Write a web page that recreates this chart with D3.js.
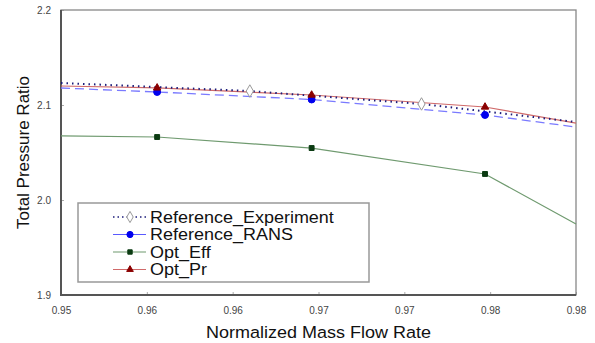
<!DOCTYPE html>
<html>
<head>
<meta charset="utf-8">
<script src="https://cdn.jsdelivr.net/npm/d3@7"></script>
<style>
  body { margin: 0; background: #fff; }
  text { font-family: "Liberation Sans", Arial, sans-serif; }
</style>
</head>
<body>
<div id="chart"></div>
<script>
// series (first/last points sit on the axis edges, where the lines get cut)
const expX = [0.95, 0.9610, 0.9710, 0.98]
const expY = [2.1232, 2.1147, 2.1011, 2.0821]
const ransX = [0.95, 0.9556, 0.9646, 0.9747, 0.98]
const ransY = [2.1179, 2.1137, 2.1058, 2.0895, 2.0768]
const effX = [0.95, 0.9556, 0.9646, 0.9747, 0.98]
const effY = [2.0674, 2.0663, 2.0547, 2.0274, 1.9747]
const prX = [0.95, 0.9556, 0.9646, 0.9747, 0.98]
const prY = [2.1200, 2.1180, 2.1105, 2.0979, 2.0810]

const xTicks = [0.95, 0.955, 0.96, 0.965, 0.97, 0.975, 0.98]
const yTicks = [1.9, 2.0, 2.1, 2.2]

const margin = { top: 10, right: 19, bottom: 48, left: 61 },
  fullWidth = 595,
  fullHeight = 343,
  width = fullWidth - margin.left - margin.right,
  height = fullHeight - margin.top - margin.bottom

const x = d3.scaleLinear().domain([0.95, 0.98]).range([0, width])
const y = d3.scaleLinear().domain([1.9, 2.2]).range([height, 0])

// excel style rounding to 2 decimals (0.955 -> 0.96)
const fmtX = d => (Math.round(d * 100 + 1e-6) / 100).toFixed(2)

const svg = d3.select('#chart')
  .append('svg')
  .attr('width', fullWidth)
  .attr('height', fullHeight)

const g = svg.append('g')
  .attr('transform', `translate(${margin.left}, ${margin.top})`)

// axes, ticks pointing inward
g.append('g')
  .attr('transform', `translate(0, ${height})`)
  .call(d3.axisBottom(x).tickValues(xTicks).tickFormat(fmtX).tickSizeInner(-3).tickSizeOuter(0).tickPadding(12))
  .call(a => a.select('.domain').remove())
  .call(a => a.selectAll('line').attr('stroke', '#aaa'))
  .call(a => a.selectAll('text').attr('font-size', 10).attr('fill', '#444')
    .attr('font-family', '"Liberation Sans", Arial, sans-serif'))

g.append('g')
  .call(d3.axisLeft(y).tickValues(yTicks).tickFormat(d3.format('.1f')).tickSizeInner(-3).tickSizeOuter(0).tickPadding(10))
  .call(a => a.select('.domain').remove())
  .call(a => a.selectAll('line').attr('stroke', '#aaa'))
  .call(a => a.selectAll('text').attr('font-size', 10).attr('fill', '#444')
    .attr('font-family', '"Liberation Sans", Arial, sans-serif'))

// plot frame: light top/right, heavier left/bottom axes
g.append('rect')
  .attr('width', width)
  .attr('height', height)
  .attr('fill', 'none')
  .attr('stroke', '#888')
  .attr('stroke-width', 1.3)

g.append('path')
  .attr('d', `M0,0V${height}H${width}`)
  .attr('fill', 'none')
  .attr('stroke', '#555')
  .attr('stroke-width', 2)

const series = [
  { name: 'Reference_Experiment', xs: expX, ys: expY, line: '#1c1c7a', dash: '1.5,4', width: 2, shape: d3.symbolDiamond, fill: '#fff', mstroke: '#999', size: 45 },
  { name: 'Reference_RANS', xs: ransX, ys: ransY, line: '#7a7aff', dash: '9,5', width: 1.3, shape: d3.symbolCircle, fill: '#0000ee', mstroke: '#0000ee', size: 38 },
  { name: 'Opt_Eff', xs: effX, ys: effY, line: '#6f9a6f', dash: null, width: 1.2, shape: d3.symbolSquare, fill: '#0b3b12', mstroke: '#0b3b12', size: 24 },
  { name: 'Opt_Pr', xs: prX, ys: prY, line: '#d06a6a', dash: null, width: 1.2, shape: d3.symbolTriangle, fill: '#8b0000', mstroke: '#8b0000', size: 24 }
]

const line = d3.line().x(d => x(d[0])).y(d => y(d[1]))

// draw lines in Excel-ish order: experiment on top of the rest
const order = [2, 1, 3, 0]
order.forEach(i => {
  const s = series[i]
  const pts = s.xs.map((v, j) => [v, s.ys[j]])
  g.append('path')
    .datum(pts)
    .attr('d', line)
    .attr('fill', 'none')
    .attr('stroke', s.line)
    .attr('stroke-width', s.width)
    .attr('stroke-dasharray', s.dash)
})

order.forEach(i => {
  const s = series[i]
  const pts = s.xs.map((v, j) => [v, s.ys[j]])
    .filter(p => p[0] > 0.95 && p[0] < 0.98)
  g.selectAll(null)
    .data(pts)
    .enter()
    .append('path')
    .attr('transform', d => `translate(${x(d[0])}, ${y(d[1])})`)
    .attr('d', d3.symbol().type(s.shape).size(s.size))
    .attr('fill', s.fill)
    .attr('stroke', s.mstroke)
    .attr('stroke-width', 1)
})

// legend
const legend = g.append('g').attr('transform', `translate(${78 - margin.left}, ${203 - margin.top})`)
legend.append('rect')
  .attr('width', 291)
  .attr('height', 79)
  .attr('fill', '#fff')
  .attr('stroke', '#999')
  .attr('stroke-width', 1.5)

const row = legend.selectAll('.legend-row')
  .data(series)
  .enter()
  .append('g')
  .attr('class', 'legend-row')
  .attr('transform', (d, i) => `translate(0, ${14 + i * 17.5})`)

row.append('line')
  .attr('x1', 35).attr('x2', 68)
  .attr('stroke', d => d.name === 'Reference_RANS' ? '#5a5aff' : d.line)
  .attr('stroke-width', d => d.name === 'Reference_Experiment' ? 1.5 : 1.2)
  .attr('stroke-dasharray', d => d.name === 'Reference_Experiment' ? '1.5,3' : null)

row.append('path')
  .attr('transform', 'translate(52, 0)')
  .attr('d', d => d3.symbol().type(d.shape).size(d.size * 0.8)())
  .attr('fill', d => d.fill)
  .attr('stroke', d => d.mstroke)

// text in the original is a bit wider than it is tall
row.append('text')
  .attr('transform', 'translate(72, 0) scale(1.09, 1)')
  .attr('dy', '0.36em')
  .attr('font-size', 16.5)
  .attr('fill', '#111')
  .text(d => d.name)

// axis titles
svg.append('text')
  .attr('transform', `translate(${margin.left + width / 2}, 338) scale(1.06, 1)`)
  .attr('text-anchor', 'middle')
  .attr('font-size', 17)
  .attr('fill', '#111')
  .text('Normalized Mass Flow Rate')

svg.append('text')
  .attr('transform', `translate(29, ${margin.top + height / 2}) rotate(-90)`)
  .attr('text-anchor', 'middle')
  .attr('font-size', 17)
  .attr('fill', '#111')
  .text('Total Pressure Ratio')
</script>
</body>
</html>
